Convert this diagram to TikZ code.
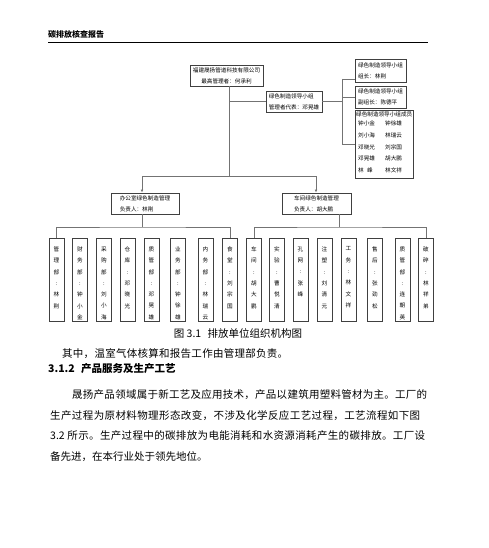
\documentclass[tikz,border=0pt]{standalone}
\usepackage{fontspec}
\setmainfont{Noto Sans CJK SC}
\usetikzlibrary{arrows.meta}
\makeatletter
\def\jfystop{\jfystop}
\def\jfyA#1{\def\jfyarg{#1}\ifx\jfyarg\jfystop\else#1\hfil\expandafter\jfyA\fi}
\def\jfy#1{\jfyA#1\jfystop\unskip}
\makeatother
\tikzset{
  box/.style={draw=black!75, line width=0.8pt, inner sep=0pt, align=left,
    font=\fontsize{5.6}{11}\selectfont},
  vbox/.style={draw=black!75, line width=0.8pt, minimum width=15pt, minimum height=83pt, inner sep=0pt},
  vtext/.style={align=center, inner sep=0pt, anchor=north, font=\fontsize{5.6}{11.3}\selectfont},
  mtext/.style={anchor=west, inner sep=0pt, font=\fontsize{5.6}{6}\selectfont},
  link/.style={draw=black!55, line width=0.6pt},
  arr/.style={link, -{Latex[length=3pt,width=2.6pt]}},
  body/.style={anchor=base west, inner sep=0pt, font=\fontsize{10.5}{12}\selectfont},
}
\begin{document}
\begin{tikzpicture}[x=1pt,y=-1pt]
\path[use as bounding box, fill=white] (0,0) rectangle (488,548);
% header
\node[anchor=base west, inner sep=0pt, font=\bfseries\fontsize{8}{8}\selectfont] (hdr) at (48,38) {碳排放核查报告};
\coordinate (rl) at (48,42.5); \coordinate (rr) at (428,42.5);
\draw[line width=1.1pt] (rl) -- (rr);
% upper boxes
\node[box, align=center, minimum width=73pt, minimum height=21pt] (top) at (226.5,75.5) {福建晟扬管道科技有限公司\\最高管理者：何承利};
\node[box, minimum width=56pt, minimum height=21pt] (lead) at (294,101.5) {绿色制造领导小组\\管理者代表：邓晃雄};
\node[box, minimum width=51pt, minimum height=23pt] (r1) at (380.5,71) {绿色制造领导小组\\组长：林荆};
\node[box, minimum width=51pt, minimum height=22pt] (r2) at (380.5,97) {绿色制造领导小组\\副组长：陈德平};
\node[draw=black!75, line width=0.8pt, minimum width=58pt, minimum height=68pt, inner sep=0pt] (r3) at (384,144) {};
\node[mtext] (mh) at (356,114) {绿色制造领导小组成员};
\node[mtext] (m11) at (358,123) {钟小金}; \node[mtext] (m12) at (385,123) {钟徐雄};
\node[mtext] (m21) at (358,135) {刘小海}; \node[mtext] (m22) at (385,135) {林瑞云};
\node[mtext] (m31) at (358,147) {邓晓光}; \node[mtext] (m32) at (385,147) {刘宗国};
\node[mtext] (m41) at (358,158) {邓晃雄}; \node[mtext] (m42) at (385,158) {胡大鹏};
\node[mtext] (m51) at (358,170) {林\hspace{0.6em}峰}; \node[mtext] (m52) at (385,170) {林文祥};
\node[box, minimum width=68pt, minimum height=21pt] (off) at (145,203.5) {办公室绿色制造管理\\负责人：林荆};
\node[box, minimum width=69pt, minimum height=21pt] (ws) at (316.5,203.5) {车间绿色制造管理\\负责人：胡大鹏};
% connectors upper
\coordinate (jt) at (229,176);
\coordinate (jl) at (229,101.5);
\draw[link] (top.south -| jt) -- (jt);
\draw[link] (jl) -- (lead.west);
\coordinate (rv1) at (342,79);
\coordinate (rv3) at (342,144);
\draw[link] (lead.east) -- (lead.east -| rv1);
\draw[link] (rv1) -- (rv3);
\draw[link] (rv1) -- (rv1 -| r1.west);
\draw[link] (r2.west -| rv1) -- (r2.west);
\draw[link] (rv3) -- (r3.west);
\coordinate (al) at (142,176);
\coordinate (ar) at (316,176);
\draw[link] (al) -- (ar);
\draw[arr] (al) -- (al |- off.north);
\draw[arr] (ar) -- (ar |- ws.north);
% bottom boxes
\foreach \i/\x/\t in {
  1/56.5/{管\\理\\部\\:\\林\\荆},
  2/80/{财\\务\\部\\:\\钟\\小\\金},
  3/104/{采\\购\\部\\:\\刘\\小\\海},
  4/127.5/{仓\\库\\:\\邓\\晓\\光},
  5/151.5/{质\\管\\部\\:\\邓\\晃\\雄},
  6/178/{业\\务\\部\\:\\钟\\徐\\雄},
  7/205.5/{内\\务\\部\\:\\林\\瑞\\云},
  8/230/{食\\堂\\:\\刘\\宗\\国},
  9/254/{车\\间\\:\\胡\\大\\鹏},
  10/277/{实\\验\\:\\曹\\悦\\清},
  11/300.5/{孔\\网\\:\\张\\峰},
  12/324.5/{注\\塑\\:\\刘\\清\\元},
  13/348.5/{工\\务\\:\\林\\文\\祥},
  14/375/{售\\后\\:\\张\\劲\\松},
  15/402.5/{质\\管\\部\\:\\连\\朝\\英},
  16/426/{破\\碎\\:\\林\\祥\\弟}} {
  \node[vbox] (b\i) at (\x,279.5) {};
  \node[vtext] (bt\i) at ([yshift=-9pt]b\i.north) {\t};
}
\coordinate (bl) at (142,227);
\coordinate (br) at (339,227);
\draw[link] (off.south -| bl) -- (bl);
\draw[link] (b1.north) |- (bl) -| (b8.north);
\draw[link] (ws.south -| br) -- (br);
\draw[link] (b9.north) |- (br) -| (b16.north);
% text below
\node[inner sep=0pt, font=\fontsize{10.5}{12}\selectfont] (cap) at (238,333) {图 3.1\hspace{0.6em}排放单位组织机构图};
\node[body] (p0) at (62,357) {\makebox[226pt][s]{\jfy{其中，温室气体核算和报告工作由管理部负责。}}};
\node[body, font=\bfseries\fontsize{10.5}{12}\selectfont] (h) at (48,372) {3.1.2\hspace{0.6em}产品服务及生产工艺};
\node[body] (l1) at (72,398) {\makebox[355pt][s]{\jfy{晟扬产品领域属于新工艺及应用技术，产品以建筑用塑料管材为主。工厂的}}};
\node[body] (l2) at (50,419) {\makebox[370pt][s]{\jfy{生产过程为原材料物理形态改变，不涉及化学反应工艺过程，工艺流程如下图}}};
\node[body] (l3) at (50,439) {\makebox[375pt][s]{\jfy{{3.2 }所示。生产过程中的碳排放为电能消耗和水资源消耗产生的碳排放。工厂设}}};
\node[body] (l4) at (50,460) {备先进，在本行业处于领先地位。};
\end{tikzpicture}
\end{document}
